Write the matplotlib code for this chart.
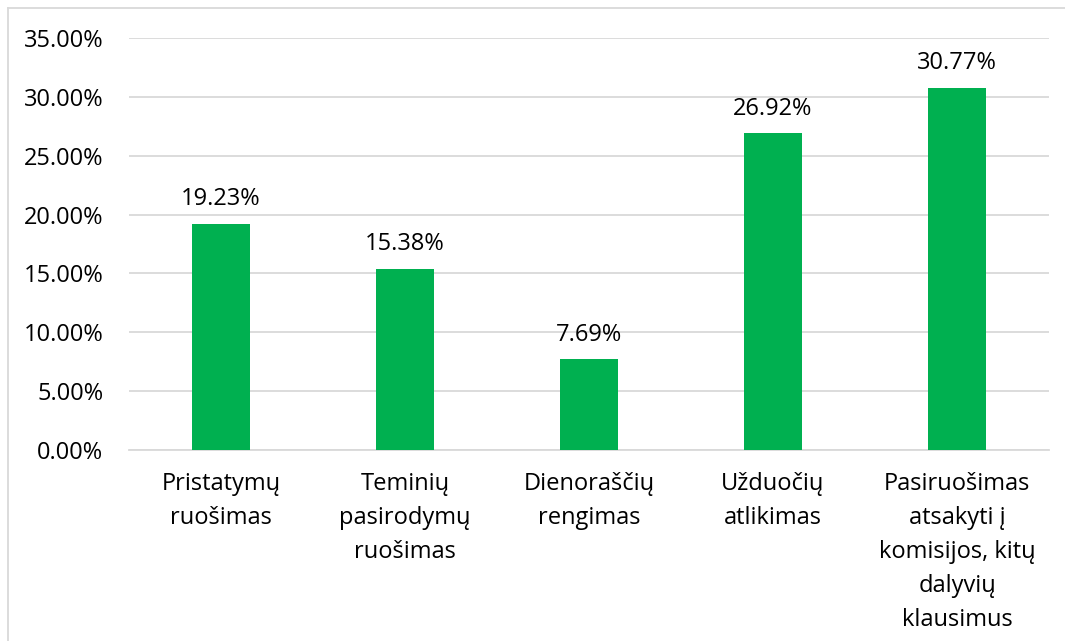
import matplotlib
matplotlib.use("Agg")
import matplotlib.pyplot as plt
from matplotlib.ticker import FuncFormatter
from matplotlib.lines import Line2D

categories = ["Pristatymų\nruošimas", "Teminių\npasirodymų\nruošimas", "Dienoraščių\nrengimas",
              "Užduočių\natlikimas", "Pasiruošimas\natsakyti į\nkomisijos, kitų\ndalyvių\nklausimus"]
values = [19.23, 15.38, 7.69, 26.92, 30.77]
yticks = [0, 5, 10, 15, 20, 25, 30, 35]

plt.rcParams['font.family'] = ['Open Sans', 'DejaVu Sans']
FS = 17

fig = plt.figure(figsize=(10.65, 6.41), dpi=100)
ax = fig.add_axes([129/1065, 1-450/641, (1049-129)/1065, (450-38)/641])

x = range(len(categories))
bars = ax.bar(x, values, width=0.315, color="#00B050", zorder=3)
for xi, v in zip(x, values):
    ax.annotate(f"{v:.2f}%", (xi, v), xytext=(0, 9), textcoords="offset points",
                ha="center", va="bottom", fontsize=FS, color="#000000")

ax.set_ylim(0, 35)
ax.set_xlim(-0.5, len(categories)-0.5)
ax.set_yticks(yticks)
ax.yaxis.set_major_formatter(FuncFormatter(lambda v, p: f"{v:.2f}%"))
ax.grid(axis="y", color="#D9D9D9", linewidth=1.3, zorder=0)
for s in ["top", "right", "left"]:
    ax.spines[s].set_visible(False)
ax.spines["bottom"].set_color("#D9D9D9")
ax.spines["bottom"].set_linewidth(1.3)
ax.tick_params(axis="both", length=0, labelsize=FS, colors="#000000")
ax.tick_params(axis="y", pad=18.5)
ax.tick_params(axis="x", pad=16)
ax.set_xticks(list(x))
ax.set_xticklabels(categories, linespacing=1.55, va="top")

# outer frame (left and top edges visible)
fig.add_artist(Line2D([7.5/1065, 7.5/1065], [0, 1-8/641], transform=fig.transFigure, color="#D9D9D9", linewidth=1.3))
fig.add_artist(Line2D([7.5/1065, 1], [1-8/641, 1-8/641], transform=fig.transFigure, color="#D9D9D9", linewidth=1.3))

fig.savefig("out.png", dpi=100)
